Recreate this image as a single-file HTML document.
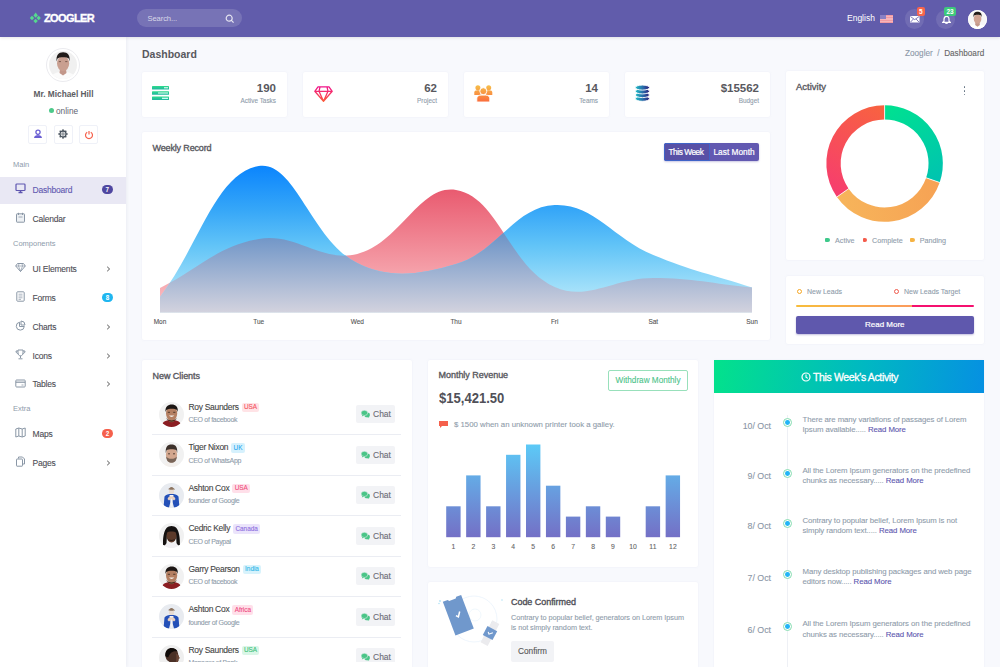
<!DOCTYPE html>
<html><head><meta charset="utf-8">
<style>
*{box-sizing:border-box;margin:0;padding:0}
html,body{width:1000px;height:667px;overflow:hidden;background:#f8f9fd;font-family:"Liberation Sans",sans-serif;color:#555}
.a{position:absolute}
.hdr{left:0;top:0;width:1000px;height:36.5px;background:#615cab;box-shadow:0 1px 3px rgba(0,0,0,.10);z-index:5}
.side{left:0;top:36px;width:126px;height:631px;background:#fff;box-shadow:1px 0 3px rgba(40,50,90,.06);z-index:3}
.card{background:#fff;border-radius:2px;box-shadow:0 0 2px rgba(210,214,230,.35)}
.t{white-space:nowrap;line-height:1}
.s{-webkit-text-stroke:0.1px currentColor}
</style></head>
<body>
<div class="a hdr">
  <svg class="a" style="left:26px;top:8px" width="20" height="20" viewBox="0 0 20 20"><g fill="#55d98f">
    <path d="M9.6 4.6 L11.9 7.5 L9.6 9.7 L7.5 7.5Z"/>
    <path d="M6 7.8 L8.2 10 L6 12.2 L3.8 10Z"/>
    <path d="M12.7 7.8 L14.9 10 L12.7 12.2 L10.5 10Z"/>
    <path d="M9.6 10.8 L11.8 13 L9.6 15.2 L7.4 13Z"/>
  </g></svg>
  <div class="a t" style="left:44px;top:13px;font-size:11px;font-weight:bold;color:#fff;letter-spacing:-0.6px;-webkit-text-stroke:0.35px #fff">ZOOGLER</div>
  <div class="a" style="left:137px;top:9px;width:105px;height:18px;border-radius:9px;background:rgba(255,255,255,.14)"></div>
  <div class="a t" style="left:147.5px;top:15.3px;font-size:7.6px;letter-spacing:-0.1px;color:rgba(255,255,255,.72)">Search...</div>
  <svg class="a" style="left:225px;top:14px" width="10" height="10" viewBox="0 0 10 10"><circle cx="4.2" cy="4.2" r="3" fill="none" stroke="rgba(255,255,255,.8)" stroke-width="1.2"/><path d="M6.4 6.4 L8.6 8.6" stroke="rgba(255,255,255,.8)" stroke-width="1.3"/></svg>
  <div class="a t" style="left:847px;top:14px;font-size:8.5px;color:#fff">English</div>
  <div class="a" style="left:880px;top:14.8px;width:13px;height:8px;background:repeating-linear-gradient(#f39aa3 0 1.15px,#f7b5ba 1.15px 2.3px)"><div class="a" style="left:0;top:0;width:6px;height:4px;background:#8a80c4"></div></div>
  <div class="a" style="left:905px;top:9.3px;width:19.3px;height:19.3px;border-radius:50%;background:rgba(255,255,255,.1)"></div>
  <svg class="a" style="left:910px;top:16px" width="9.5" height="6.5" viewBox="0 0 9.5 6.5"><rect x="0" y="0" width="9.5" height="6.5" rx=".6" fill="#fff"/><path d="M.5 .6 L4.75 3.6 L9 .6 M.6 6 L3.4 3 M8.9 6 L6.1 3" fill="none" stroke="#615cab" stroke-width=".8"/></svg>
  <div class="a t" style="left:916.5px;top:7px;width:8.5px;height:9px;border-radius:2px;background:#f7654c;color:#fff;font-size:6.5px;font-weight:bold;text-align:center;line-height:9px">5</div>
  <div class="a" style="left:936px;top:9.5px;width:19px;height:19px;border-radius:50%;background:rgba(255,255,255,.1)"></div>
  <svg class="a" style="left:941.5px;top:15.5px" width="9" height="8" viewBox="0 0 9 8"><path d="M4.5 .3 C2.5 .3 2 1.8 2 3.4 L2 5.2 L.5 6.4 L8.5 6.4 L7 5.2 L7 3.4 C7 1.8 6.5 .3 4.5 .3Z" fill="none" stroke="#fff" stroke-width="1.2" stroke-linejoin="round"/><path d="M3.3 7.3 L5.7 7.3" stroke="#fff" stroke-width="1.2"/></svg>
  <div class="a t" style="left:944px;top:7px;width:12px;height:9px;border-radius:2px;background:#3ec97c;color:#fff;font-size:6.5px;font-weight:bold;text-align:center;line-height:9px">23</div>
  <svg class="a" style="left:968px;top:9.5px" width="19" height="19" viewBox="0 0 28 28"><defs><clipPath id="cav2"><circle cx="14" cy="14" r="14"/></clipPath></defs><circle cx="14" cy="14" r="14" fill="#f6f6f6"/><g clip-path="url(#cav2)">
<path d="M2 28 C3 22.5 7 21 14 21 C21 21 25 22.5 26 28Z" fill="#fff"/>
<path d="M11 18 L17 18 L17.5 22 L14 24.5 L10.5 22Z" fill="#c2978a"/>
<ellipse cx="14.1" cy="13.2" rx="5.6" ry="7" fill="#cfa292"/>
<path d="M8.1 11 C7.5 5 10 2.6 14.1 2.6 C18.2 2.6 20.7 5 20.1 11 L19.4 8.3 C17.6 6.8 10.6 6.8 8.8 8.3Z" fill="#221c1a"/>
</g><circle cx="14" cy="14" r="13.3" fill="none" stroke="#fff" stroke-width="1.4"/></svg>
</div>
<div class="a side"></div>
<div style="position:absolute;left:0;top:0;z-index:4">
<div class="a" style="left:46px;top:48px;width:34px;height:34px;border-radius:50%;border:1px solid #ebebef;background:#fff"></div>
<svg class="a" style="left:49px;top:51px" width="28" height="28" viewBox="0 0 28 28"><defs><clipPath id="cav"><circle cx="14" cy="14" r="14"/></clipPath></defs><circle cx="14" cy="14" r="14" fill="#f0f0f0"/><g clip-path="url(#cav)">
<path d="M2 28 C3 22.5 7 21 14 21 C21 21 25 22.5 26 28Z" fill="#fbfbfb"/>
<path d="M11 18 L17 18 L17.5 22 L14 24.5 L10.5 22Z" fill="#c2978a"/>
<ellipse cx="14.1" cy="12.6" rx="6.1" ry="7.6" fill="#c99f90"/>
<path d="M7.6 10.5 C7 4 9.5 1.3 14.1 1.3 C18.7 1.3 21.2 4 20.6 10.5 L19.8 7.5 C18 5.8 10.3 5.8 8.5 7.5Z" fill="#221c1a"/>
<path d="M9.8 10.6 L12 10.6 M16.2 10.6 L18.4 10.6" stroke="#5a4038" stroke-width=".7"/>
</g></svg>

<div class="a t" style="left:0;width:126px;text-align:center;top:89.8px;font-size:8.3px;font-weight:bold;color:#5c5c62;padding-left:1px">Mr. Michael Hill</div>
<div class="a" style="left:49.3px;top:108.2px;width:5px;height:5px;border-radius:50%;background:#4cc98a"></div>
<div class="a t" style="left:56px;top:107px;font-size:8.3px;color:#5f6470">online</div>
<div class="a" style="left:28px;top:125px;width:19px;height:18.5px;border:1px solid #eff1f8;border-radius:2px;background:#fff"></div>
<div class="a" style="left:53.5px;top:125px;width:19px;height:18.5px;border:1px solid #eff1f8;border-radius:2px;background:#fff"></div>
<div class="a" style="left:79px;top:125px;width:19px;height:18.5px;border:1px solid #eff1f8;border-radius:2px;background:#fff"></div>
<svg class="a" style="left:33px;top:129px" width="10" height="10" viewBox="0 0 10 10"><circle cx="5" cy="3.3" r="2.1" fill="none" stroke="#6a5fd3" stroke-width="1.3"/><path d="M1 9 C1.3 6.8 3 6.3 5 6.3 C7 6.3 8.7 6.8 9 9Z" fill="#6a5fd3"/><path d="M4 5.2 L5 7 L6 5.2" fill="#6a5fd3"/></svg>
<svg class="a" style="left:58.3px;top:129px" width="10" height="10" viewBox="0 0 10 10"><rect x="4.3" y="0.3" width="1.4" height="2" transform="rotate(0 5 5)" fill="#4b5560"/><rect x="4.3" y="0.3" width="1.4" height="2" transform="rotate(45 5 5)" fill="#4b5560"/><rect x="4.3" y="0.3" width="1.4" height="2" transform="rotate(90 5 5)" fill="#4b5560"/><rect x="4.3" y="0.3" width="1.4" height="2" transform="rotate(135 5 5)" fill="#4b5560"/><rect x="4.3" y="0.3" width="1.4" height="2" transform="rotate(180 5 5)" fill="#4b5560"/><rect x="4.3" y="0.3" width="1.4" height="2" transform="rotate(225 5 5)" fill="#4b5560"/><rect x="4.3" y="0.3" width="1.4" height="2" transform="rotate(270 5 5)" fill="#4b5560"/><rect x="4.3" y="0.3" width="1.4" height="2" transform="rotate(315 5 5)" fill="#4b5560"/><circle cx="5" cy="5" r="3" fill="none" stroke="#4b5560" stroke-width="1.3"/><circle cx="5" cy="5" r="1.2" fill="none" stroke="#4b5560" stroke-width=".8"/></svg>
<svg class="a" style="left:83.5px;top:129.5px" width="10" height="10" viewBox="0 0 10 10"><path d="M3.2 2.2 A3.5 3.5 0 1 0 6.8 2.2" fill="none" stroke="#f5624d" stroke-width="1.2"/><path d="M5 1 L5 4.6" stroke="#f5624d" stroke-width="1.2"/></svg>
<div class="a" style="left:0;top:177px;width:126px;height:27px;background:#e9e8f4"></div>
<div class="a t" style="left:13px;top:161.2px;font-size:7.5px;color:#8e9bab">Main</div>
<div class="a t" style="left:13px;top:239.7px;font-size:7.5px;color:#8e9bab">Components</div>
<div class="a t" style="left:13px;top:404.7px;font-size:7.5px;color:#8e9bab">Extra</div>
<svg class="a" style="left:14.5px;top:183.2px" width="11" height="11" viewBox="0 0 11 11"><rect x="1" y="1" width="9" height="6.5" rx=".8" fill="none" stroke="#5f56b0" stroke-width="1.2"/><path d="M3.5 9.5 L7.5 9.5 M5.5 7.5 L5.5 9.5" stroke="#5f56b0" stroke-width="1.4"/></svg>
<div class="a t" style="left:32.5px;top:186px;font-size:8.5px;letter-spacing:-0.2px;-webkit-text-stroke:0.1px #6158b0;color:#6158b0">Dashboard</div>
<div class="a t" style="left:102px;top:184.9px;width:10.5px;height:9.2px;border-radius:4.6px;background:#4f47a0;color:#fff;font-size:6.3px;font-weight:bold;text-align:center;line-height:9.4px">7</div>
<svg class="a" style="left:14.5px;top:212.2px" width="11" height="11" viewBox="0 0 11 11"><rect x="1.5" y="1.8" width="8" height="8.4" rx=".6" fill="#eef1f4" stroke="#8a97a6" stroke-width="1"/><path d="M3.5 .8 L3.5 3 M7.5 .8 L7.5 3" stroke="#8a97a6" stroke-width="1"/><path d="M3.5 5 L7.5 5" stroke="#8a97a6" stroke-width=".8"/></svg>
<div class="a t" style="left:32.5px;top:215px;font-size:8.5px;letter-spacing:-0.2px;-webkit-text-stroke:0.1px #4d4d55;color:#4d4d55">Calendar</div>
<svg class="a" style="left:14.5px;top:261.8px" width="11" height="11" viewBox="0 0 11 11"><path d="M2.5 1.5 L8.5 1.5 L10.3 4 L5.5 9.5 L.7 4Z" fill="none" stroke="#8a97a6" stroke-width="1"/><path d="M.7 4 L10.3 4 M4 1.5 L3.5 4 L5.5 9.5 L7.5 4 L7 1.5" fill="none" stroke="#8a97a6" stroke-width=".7"/></svg>
<div class="a t" style="left:32.5px;top:264.6px;font-size:8.5px;letter-spacing:-0.2px;-webkit-text-stroke:0.1px #4d4d55;color:#4d4d55">UI Elements</div>
<svg class="a" style="left:105.5px;top:265.6px" width="5" height="6" viewBox="0 0 5 6"><path d="M1.2 .8 L3.6 3 L1.2 5.2" fill="none" stroke="#555" stroke-width="1"/></svg>
<svg class="a" style="left:14.5px;top:290.8px" width="11" height="11" viewBox="0 0 11 11"><rect x="1.8" y=".8" width="7.4" height="9.4" rx=".8" fill="none" stroke="#8a97a6" stroke-width="1"/><path d="M3.5 3.2 L7.5 3.2 M3.5 5 L7.5 5 M3.5 6.8 L7.5 6.8 M3.5 8.4 L6 8.4" stroke="#8a97a6" stroke-width=".7"/></svg>
<div class="a t" style="left:32.5px;top:293.6px;font-size:8.5px;letter-spacing:-0.2px;-webkit-text-stroke:0.1px #4d4d55;color:#4d4d55">Forms</div>
<div class="a t" style="left:101.8px;top:292.5px;width:11.4px;height:9.2px;border-radius:4.6px;background:#1fb6f0;color:#fff;font-size:6.3px;font-weight:bold;text-align:center;line-height:9.4px">8</div>
<svg class="a" style="left:14.5px;top:319.8px" width="11" height="11" viewBox="0 0 11 11"><path d="M4.5 2.2 A4 4 0 1 0 9.3 6.5 L4.5 6.5Z" fill="none" stroke="#8a97a6" stroke-width="1"/><path d="M6 1 A4 4 0 0 1 10 5 L6 5Z" fill="none" stroke="#8a97a6" stroke-width="1"/></svg>
<div class="a t" style="left:32.5px;top:322.6px;font-size:8.5px;letter-spacing:-0.2px;-webkit-text-stroke:0.1px #4d4d55;color:#4d4d55">Charts</div>
<svg class="a" style="left:105.5px;top:323.6px" width="5" height="6" viewBox="0 0 5 6"><path d="M1.2 .8 L3.6 3 L1.2 5.2" fill="none" stroke="#555" stroke-width="1"/></svg>
<svg class="a" style="left:14.5px;top:348.7px" width="11" height="11" viewBox="0 0 11 11"><path d="M3 1 L8 1 L8 4 C8 5.7 7 6.8 5.5 6.8 C4 6.8 3 5.7 3 4Z" fill="none" stroke="#8a97a6" stroke-width="1"/><path d="M3 2 L1 2 C1 3.8 2 4.5 3.2 4.6 M8 2 L10 2 C10 3.8 9 4.5 7.8 4.6 M5.5 6.8 L5.5 9 M3.5 9.8 L7.5 9.8" fill="none" stroke="#8a97a6" stroke-width="1"/></svg>
<div class="a t" style="left:32.5px;top:351.5px;font-size:8.5px;letter-spacing:-0.2px;-webkit-text-stroke:0.1px #4d4d55;color:#4d4d55">Icons</div>
<svg class="a" style="left:105.5px;top:352.5px" width="5" height="6" viewBox="0 0 5 6"><path d="M1.2 .8 L3.6 3 L1.2 5.2" fill="none" stroke="#555" stroke-width="1"/></svg>
<svg class="a" style="left:14.5px;top:377.59999999999997px" width="11" height="11" viewBox="0 0 11 11"><rect x=".8" y="2" width="9.4" height="7" rx=".8" fill="none" stroke="#8a97a6" stroke-width="1"/><path d="M.8 4.2 L10.2 4.2" stroke="#8a97a6" stroke-width="1.2"/><path d="M6.5 7 L8.5 7" stroke="#8a97a6" stroke-width=".8"/></svg>
<div class="a t" style="left:32.5px;top:380.4px;font-size:8.5px;letter-spacing:-0.2px;-webkit-text-stroke:0.1px #4d4d55;color:#4d4d55">Tables</div>
<svg class="a" style="left:105.5px;top:381.4px" width="5" height="6" viewBox="0 0 5 6"><path d="M1.2 .8 L3.6 3 L1.2 5.2" fill="none" stroke="#555" stroke-width="1"/></svg>
<svg class="a" style="left:14.5px;top:427.2px" width="11" height="11" viewBox="0 0 11 11"><path d="M.8 2 L3.8 1 L7.2 2 L10.2 1 L10.2 9 L7.2 10 L3.8 9 L.8 10Z M3.8 1 L3.8 9 M7.2 2 L7.2 10" fill="none" stroke="#8a97a6" stroke-width="1"/></svg>
<div class="a t" style="left:32.5px;top:430px;font-size:8.5px;letter-spacing:-0.2px;-webkit-text-stroke:0.1px #4d4d55;color:#4d4d55">Maps</div>
<div class="a t" style="left:101.8px;top:428.9px;width:11.4px;height:9.2px;border-radius:4.6px;background:#f5604c;color:#fff;font-size:6.3px;font-weight:bold;text-align:center;line-height:9.4px">2</div>
<svg class="a" style="left:14.5px;top:456.2px" width="11" height="11" viewBox="0 0 11 11"><path d="M3.5 2.5 L3.5 1 L7.5 1 L9.5 3 L9.5 8 L8 8" fill="none" stroke="#8a97a6" stroke-width="1"/><rect x="1.5" y="3" width="6" height="7.2" rx=".5" fill="none" stroke="#8a97a6" stroke-width="1"/></svg>
<div class="a t" style="left:32.5px;top:459px;font-size:8.5px;letter-spacing:-0.2px;-webkit-text-stroke:0.1px #4d4d55;color:#4d4d55">Pages</div>
<svg class="a" style="left:105.5px;top:460px" width="5" height="6" viewBox="0 0 5 6"><path d="M1.2 .8 L3.6 3 L1.2 5.2" fill="none" stroke="#555" stroke-width="1"/></svg>
</div>
<div class="a t" style="left:142px;top:49px;font-size:10.5px;font-weight:bold;color:#58585e">Dashboard</div>
<div class="a t s" style="left:905px;top:50px;font-size:8.2px;color:#8b98a8">Zoogler&nbsp;&nbsp;/&nbsp;&nbsp;<span style="color:#666">Dashboard</span></div>
<div class="a card" style="left:142px;top:71.8px;width:145px;height:44.8px"><svg class="a" style="left:10px;top:14.5px" width="17" height="14" viewBox="0 0 17 14"><defs><linearGradient id="gL" x1="0" y1="0" x2="0" y2="1"><stop offset="0" stop-color="#2fdc8c"/><stop offset="1" stop-color="#1fb4a0"/></linearGradient></defs><rect x="0" y="0" width="17" height="3.6" rx=".6" fill="url(#gL)"/><rect x="0" y="5.2" width="17" height="3.6" rx=".6" fill="url(#gL)"/><rect x="0" y="10.4" width="17" height="3.6" rx=".6" fill="url(#gL)"/><rect x="12" y="1.3" width="4" height="1" fill="#fff"/><rect x="6" y="6.5" width="10" height="1" fill="#e6fff4"/><rect x="10" y="11.7" width="6" height="1.2" fill="#dff"/></svg><div class="a t" style="right:11px;top:11px;font-size:11.5px;font-weight:bold;color:#58585e">190</div><div class="a t s" style="right:11px;top:26.5px;font-size:6.4px;color:#8f9cab">Active Tasks</div></div>
<div class="a card" style="left:303px;top:71.8px;width:145px;height:44.8px"><svg class="a" style="left:10.5px;top:14px" width="19" height="16" viewBox="0 0 19 16"><defs><linearGradient id="gD" x1="0" y1="0" x2="0" y2="1"><stop offset="0" stop-color="#f0138a"/><stop offset="1" stop-color="#fb5a3a"/></linearGradient></defs><path d="M4 .8 L15 .8 L18.2 5.3 L9.5 15.2 L.8 5.3Z M.8 5.3 L18.2 5.3 M6 .8 L5 5.3 L9.5 15.2 L14 5.3 L13 .8" fill="none" stroke="url(#gD)" stroke-width="1.3" stroke-linejoin="round"/></svg><div class="a t" style="right:11px;top:11px;font-size:11.5px;font-weight:bold;color:#58585e">62</div><div class="a t s" style="right:11px;top:26.5px;font-size:6.4px;color:#8f9cab">Project</div></div>
<div class="a card" style="left:464px;top:71.8px;width:145px;height:44.8px"><svg class="a" style="left:10px;top:13px" width="19" height="18" viewBox="0 0 19 18"><defs><linearGradient id="gT" gradientUnits="userSpaceOnUse" x1="0" y1="0" x2="0" y2="17"><stop offset="0" stop-color="#f6c04a"/><stop offset="1" stop-color="#fb6b3b"/></linearGradient></defs><g fill="url(#gT)"><circle cx="3.9" cy="2.8" r="2.5"/><circle cx="14.7" cy="2.8" r="2.5"/><path d="M.3 10 L.3 7.6 C.3 6 1.5 5.3 3.2 5.3 L4.8 5.3 C6.3 5.3 6.6 6.2 6.6 7.2 L6.6 10Z"/><path d="M18.3 10 L18.3 7.6 C18.3 6 17.1 5.3 15.4 5.3 L13.8 5.3 C12.3 5.3 12 6.2 12 7.2 L12 10Z"/><circle cx="9.3" cy="6.2" r="3.5" stroke="#fff" stroke-width=".9"/><path d="M2.8 17 L2.8 13.8 C2.8 11.5 4.3 10.1 7 10.1 L11.6 10.1 C14.3 10.1 15.8 11.5 15.8 13.8 L15.8 17Z" stroke="#fff" stroke-width=".9"/></g></svg><div class="a t" style="right:11px;top:11px;font-size:11.5px;font-weight:bold;color:#58585e">14</div><div class="a t s" style="right:11px;top:26.5px;font-size:6.4px;color:#8f9cab">Teams</div></div>
<div class="a card" style="left:625px;top:71.8px;width:145px;height:44.8px"><svg class="a" style="left:10px;top:13.4px" width="15" height="17" viewBox="0 0 15 17"><defs><linearGradient id="gC" gradientUnits="userSpaceOnUse" x1="0" y1="0" x2="15" y2="0"><stop offset="0" stop-color="#1fc3c9"/><stop offset=".55" stop-color="#2a68a8"/><stop offset="1" stop-color="#2b1876"/></linearGradient></defs><g fill="url(#gC)" stroke="#fff" stroke-width=".9"><ellipse cx="7.4" cy="13.7" rx="7.1" ry="2.6"/><ellipse cx="7.4" cy="10" rx="7.1" ry="2.6"/><ellipse cx="7.4" cy="6.3" rx="7.1" ry="2.6"/><ellipse cx="7.4" cy="2.6" rx="7.1" ry="2.5"/></g></svg><div class="a t" style="right:11px;top:11px;font-size:11.5px;font-weight:bold;color:#58585e">$15562</div><div class="a t s" style="right:11px;top:26.5px;font-size:6.4px;color:#8f9cab">Budget</div></div>
<div class="a card" style="left:142px;top:132px;width:628px;height:208px"></div>
<div class="a t" style="left:152.5px;top:143.8px;font-size:9px;letter-spacing:-0.15px;-webkit-text-stroke:0.35px #58585e;color:#58585e">Weekly Record</div>
<div class="a" style="left:664px;top:143px;width:95px;height:18px;border-radius:2px;background:#6259b1;box-shadow:0 1px 2px rgba(80,70,160,.3)"></div>
<div class="a" style="left:664px;top:143px;width:46px;height:18px;border-radius:2px 0 0 2px;background:#5850a6;border:1px solid #3f63c8"></div>
<div class="a t" style="left:668.5px;top:148px;font-size:8.3px;letter-spacing:-0.45px;-webkit-text-stroke:0.2px #fff;color:#fff">This Week</div>
<div class="a t" style="left:713.5px;top:148px;font-size:8.3px;-webkit-text-stroke:0.2px #fff;color:#fff">Last Month</div>
<svg class="a" style="left:0;top:0;z-index:2" width="1000" height="667" viewBox="0 0 1000 667">
<defs>
<linearGradient id="gb" gradientUnits="userSpaceOnUse" x1="0" y1="165" x2="0" y2="312"><stop offset="0" stop-color="#0a84fd"/><stop offset=".3" stop-color="#35a6f8"/><stop offset=".55" stop-color="#62c4f7"/><stop offset="1" stop-color="#c4effb"/></linearGradient>
<linearGradient id="gp" gradientUnits="userSpaceOnUse" x1="0" y1="190" x2="0" y2="312"><stop offset="0" stop-color="#e95b70"/><stop offset="1" stop-color="#fbc3c6"/></linearGradient>
<linearGradient id="gs" gradientUnits="userSpaceOnUse" x1="0" y1="232" x2="0" y2="312"><stop offset="0" stop-color="#6a92c6"/><stop offset="1" stop-color="#d2d2de"/></linearGradient>
<clipPath id="cb"><path d="M160.0,297.0 C199.5,244.6 215.9,173.4 258.7,166.0 C294.8,159.8 311.3,240.1 357.3,263.0 C390.2,279.3 419.5,274.7 456.0,264.0 C498.5,251.5 514.4,206.8 554.7,205.0 C593.4,203.2 612.6,238.0 653.3,255.0 C691.6,271.0 712.5,274.5 752.0,287.5 L752,312.5 L160,312.5 Z"/></clipPath>
</defs>
<path d="M160.0,288.0 C199.5,268.4 217.3,246.1 258.7,239.0 C296.2,232.5 321.1,263.0 357.3,254.0 C400.0,243.4 419.7,183.9 456.0,190.0 C498.7,197.1 508.7,266.5 554.7,287.0 C587.6,301.7 613.9,277.9 653.3,278.0 C692.8,278.1 712.5,283.7 752.0,287.5 L752,312.5 L160,312.5 Z" fill="url(#gp)"/>
<path d="M160.0,297.0 C199.5,244.6 215.9,173.4 258.7,166.0 C294.8,159.8 311.3,240.1 357.3,263.0 C390.2,279.3 419.5,274.7 456.0,264.0 C498.5,251.5 514.4,206.8 554.7,205.0 C593.4,203.2 612.6,238.0 653.3,255.0 C691.6,271.0 712.5,274.5 752.0,287.5 L752,312.5 L160,312.5 Z" fill="url(#gb)"/>
<path d="M160.0,288.0 C199.5,268.4 217.3,246.1 258.7,239.0 C296.2,232.5 321.1,263.0 357.3,254.0 C400.0,243.4 419.7,183.9 456.0,190.0 C498.7,197.1 508.7,266.5 554.7,287.0 C587.6,301.7 613.9,277.9 653.3,278.0 C692.8,278.1 712.5,283.7 752.0,287.5 L752,312.5 L160,312.5 Z" fill="url(#gs)" clip-path="url(#cb)"/>
</svg>
<div class="a t s" style="left:140.0px;width:40px;text-align:center;top:319px;font-size:6.5px;color:#555;z-index:2">Mon</div>
<div class="a t s" style="left:238.7px;width:40px;text-align:center;top:319px;font-size:6.5px;color:#555;z-index:2">Tue</div>
<div class="a t s" style="left:337.3px;width:40px;text-align:center;top:319px;font-size:6.5px;color:#555;z-index:2">Wed</div>
<div class="a t s" style="left:436.0px;width:40px;text-align:center;top:319px;font-size:6.5px;color:#555;z-index:2">Thu</div>
<div class="a t s" style="left:534.7px;width:40px;text-align:center;top:319px;font-size:6.5px;color:#555;z-index:2">Fri</div>
<div class="a t s" style="left:633.3px;width:40px;text-align:center;top:319px;font-size:6.5px;color:#555;z-index:2">Sat</div>
<div class="a t s" style="left:732.0px;width:40px;text-align:center;top:319px;font-size:6.5px;color:#555;z-index:2">Sun</div>
<div class="a card" style="left:786px;top:71px;width:198px;height:189px"></div>
<div class="a t" style="left:796px;top:81.5px;font-size:9.5px;-webkit-text-stroke:0.35px #58585e;color:#58585e">Activity</div>
<div class="a" style="left:963.6px;top:86.4px;width:1.7px;height:1.7px;border-radius:50%;background:#607080"></div>
<div class="a" style="left:963.6px;top:90.10000000000001px;width:1.7px;height:1.7px;border-radius:50%;background:#607080"></div>
<div class="a" style="left:963.6px;top:93.8px;width:1.7px;height:1.7px;border-radius:50%;background:#607080"></div>
<svg class="a" style="left:0;top:0;z-index:2" width="1000" height="667" viewBox="0 0 1000 667"><defs><linearGradient id="gA" gradientUnits="userSpaceOnUse" x1="884" y1="105" x2="940" y2="195"><stop offset="0" stop-color="#00e28f"/><stop offset="1" stop-color="#00bfb5"/></linearGradient><linearGradient id="gP" gradientUnits="userSpaceOnUse" x1="940" y1="185" x2="830" y2="205"><stop offset="0" stop-color="#f6a254"/><stop offset="1" stop-color="#f7b65b"/></linearGradient><linearGradient id="gCm" gradientUnits="userSpaceOnUse" x1="884" y1="105" x2="830" y2="200"><stop offset="0" stop-color="#f8633f"/><stop offset="1" stop-color="#f63a72"/></linearGradient></defs><path d="M884.60,112.40 A51.1,51.1 0 0 1 932.92,180.14" fill="none" stroke="url(#gA)" stroke-width="14.3"/><path d="M932.92,180.14 A51.1,51.1 0 0 1 842.74,192.81" fill="none" stroke="url(#gP)" stroke-width="14.3"/><path d="M842.74,192.81 A51.1,51.1 0 0 1 884.60,112.40" fill="none" stroke="url(#gCm)" stroke-width="14.3"/><path d="M884.60,120.05 L884.60,104.75" stroke="#fff" stroke-width="0.8"/><path d="M925.68,177.65 L940.15,182.63" stroke="#fff" stroke-width="0.8"/><path d="M849.01,188.42 L836.47,197.20" stroke="#fff" stroke-width="0.8"/></svg>
<div class="a" style="left:825px;top:238.3px;width:4.5px;height:4px;border-radius:1px 2px 2px 1px;background:#3ec98b"></div>
<div class="a t s" style="left:835px;top:236.5px;font-size:7.2px;color:#8f9cab">Active</div>
<div class="a" style="left:862.5px;top:238.3px;width:4.5px;height:4px;border-radius:1px 2px 2px 1px;background:#f45b4b"></div>
<div class="a t s" style="left:872px;top:236.5px;font-size:7.2px;color:#8f9cab">Complete</div>
<div class="a" style="left:910px;top:238.3px;width:4.5px;height:4px;border-radius:1px 2px 2px 1px;background:#f6b343"></div>
<div class="a t s" style="left:919.7px;top:236.5px;font-size:7.2px;color:#8f9cab">Panding</div>
<div class="a card" style="left:786px;top:276px;width:198px;height:68px"></div>
<div class="a" style="left:797px;top:289px;width:5px;height:5px;border-radius:50%;border:1.3px solid #f5a623"></div>
<div class="a t s" style="left:807px;top:288px;font-size:7px;color:#8f9cab">New Leads</div>
<div class="a" style="left:893.5px;top:289px;width:5px;height:5px;border-radius:50%;border:1.3px solid #ef5a4c"></div>
<div class="a t s" style="left:904px;top:288px;font-size:7px;color:#8f9cab">New Leads Target</div>
<div class="a" style="left:796px;top:305px;width:177.5px;height:2.4px;border-radius:1.2px;background:linear-gradient(90deg,#f7bd3c 0,#fb9b5d 115.6px,#f5106f 115.6px,#f5106f 100%)"></div>
<div class="a" style="left:796px;top:316px;width:177.5px;height:17.5px;border-radius:2px;background:#5f58ad;box-shadow:0 1px 2px rgba(80,70,160,.35)"></div>
<div class="a t" style="left:796px;width:177.5px;text-align:center;top:320.5px;font-size:8px;-webkit-text-stroke:0.2px #fff;color:#fff">Read More</div>
<div class="a card" style="left:142px;top:360px;width:270px;height:320px"></div>
<div class="a t" style="left:152.5px;top:371.8px;font-size:9px;letter-spacing:-0.05px;-webkit-text-stroke:0.35px #58585e;color:#58585e">New Clients</div>
<div class="a" style="left:0;top:0;width:1000px;height:662px;overflow:hidden">
<div class="a" style="left:159px;top:401.5px;width:25px;height:25px"><svg width="25" height="25" viewBox="0 0 25 25"><defs><clipPath id="cf"><circle cx="12.5" cy="12.5" r="12.5"/></clipPath></defs><circle cx="12.5" cy="12.5" r="12.5" fill="#f1f1f1"/><g clip-path="url(#cf)"><path d="M2.5 24 C3.5 19.5 7 18 12.5 18 C18 18 21.5 19.5 22.5 24 L22.5 26 L2.5 26Z" fill="#8b1e22"/><path d="M10 17 L15 17 L15 19.5 C14 20.5 11 20.5 10 19.5Z" fill="#8a5a40"/><ellipse cx="12.6" cy="11.5" rx="5.6" ry="7.4" fill="#b47f62"/><path d="M7 15 C8 19.5 17 19.5 18.2 15 C17.5 18 15 19.4 12.6 19.4 C10 19.4 7.5 18 7 15Z" fill="#3a2418"/><path d="M6.5 10 C6 4.5 9 2.6 12.8 2.6 C16.5 2.6 19.3 4.5 18.8 10 L18 8 C16 6.3 9.5 6.3 7.3 8Z" fill="#1c1614"/><path d="M9.8 13.6 Q12.6 16.3 15.4 13.6Z" fill="#f4f0ea"/><path d="M8.8 10.3 L11 10.3 M14.2 10.3 L16.4 10.3" stroke="#3a2a20" stroke-width=".8"/></g></svg></div>
<div class="a t s" style="left:188.4px;top:402.7px;font-size:8.5px;color:#444"><span style="letter-spacing:-0.3px">Roy Saunders</span><span style="display:inline-block;margin-left:3px;padding:1.3px 2.3px 1.5px;border-radius:2px;background:#ffe3e6;color:#f4515c;font-size:6.4px;vertical-align:0.5px;line-height:1">USA</span></div>
<div class="a t s" style="left:188.4px;top:416.0px;font-size:7px;letter-spacing:-0.3px;color:#8f9cab">CEO of facebook</div>
<div class="a" style="left:356px;top:405.0px;width:39px;height:18px;border-radius:2px;background:#f2f3f6"></div>
<svg class="a" style="left:360.5px;top:410.0px" width="9" height="8" viewBox="0 0 9 8"><ellipse cx="6.1" cy="4.9" rx="2.8" ry="2.4" fill="#4ac587"/><path d="M7.2 6.6 L8.4 7.8 L6.2 7.1Z" fill="#4ac587"/><ellipse cx="3.4" cy="2.9" rx="3.3" ry="2.6" fill="#4ac587" stroke="#f2f3f6" stroke-width=".5"/><path d="M1.6 4.8 L.8 6.4 L3 5.4Z" fill="#4ac587"/></svg>
<div class="a t s" style="left:373px;top:410.0px;font-size:8.5px;color:#6b6b75">Chat</div>
<div class="a" style="left:152px;top:434.0px;width:249px;height:1px;background:#ebedf3"></div>
<div class="a" style="left:159px;top:442.0px;width:25px;height:25px"><svg width="25" height="25" viewBox="0 0 25 25"><defs><clipPath id="cf"><circle cx="12.5" cy="12.5" r="12.5"/></clipPath></defs><circle cx="12.5" cy="12.5" r="12.5" fill="#f1f1f1"/><g clip-path="url(#cf)"><path d="M4 26 C5 21 8 20 12.5 20 C17 20 20 21 21 26Z" fill="#f3efec"/><ellipse cx="12.5" cy="12.8" rx="5.6" ry="7.6" fill="#d2a68e"/><path d="M7.2 14.5 C7.5 19.5 9.8 20.8 12.5 20.8 C15.2 20.8 17.5 19.5 17.8 14.5 C16.5 16.2 15 16.8 12.5 16.8 C10 16.8 8.5 16.2 7.2 14.5Z" fill="#786457"/><path d="M6.8 11 C6.2 5 8.5 2.5 12.5 2.5 C16.5 2.5 18.8 5 18.2 11 L17.4 8.2 C15.5 6.8 9.5 6.8 7.6 8.2Z" fill="#3c302a"/><path d="M9 11.8 L11 11.8 M14 11.8 L16 11.8" stroke="#3a2a20" stroke-width=".8"/></g></svg></div>
<div class="a t s" style="left:188.4px;top:443.2px;font-size:8.5px;color:#444"><span style="letter-spacing:-0.3px">Tiger Nixon</span><span style="display:inline-block;margin-left:3px;padding:1.3px 2.3px 1.5px;border-radius:2px;background:#d6f1fd;color:#2ba9f0;font-size:6.4px;vertical-align:0.5px;line-height:1">UK</span></div>
<div class="a t s" style="left:188.4px;top:456.5px;font-size:7px;letter-spacing:-0.3px;color:#8f9cab">CEO of WhatsApp</div>
<div class="a" style="left:356px;top:445.5px;width:39px;height:18px;border-radius:2px;background:#f2f3f6"></div>
<svg class="a" style="left:360.5px;top:450.5px" width="9" height="8" viewBox="0 0 9 8"><ellipse cx="6.1" cy="4.9" rx="2.8" ry="2.4" fill="#4ac587"/><path d="M7.2 6.6 L8.4 7.8 L6.2 7.1Z" fill="#4ac587"/><ellipse cx="3.4" cy="2.9" rx="3.3" ry="2.6" fill="#4ac587" stroke="#f2f3f6" stroke-width=".5"/><path d="M1.6 4.8 L.8 6.4 L3 5.4Z" fill="#4ac587"/></svg>
<div class="a t s" style="left:373px;top:450.5px;font-size:8.5px;color:#6b6b75">Chat</div>
<div class="a" style="left:152px;top:474.5px;width:249px;height:1px;background:#ebedf3"></div>
<div class="a" style="left:159px;top:482.5px;width:25px;height:25px"><svg width="25" height="25" viewBox="0 0 25 25"><defs><clipPath id="cf"><circle cx="12.5" cy="12.5" r="12.5"/></clipPath></defs><circle cx="12.5" cy="12.5" r="12.5" fill="#e8ebf0"/><g clip-path="url(#cf)"><path d="M4.5 24.5 L5.5 13.5 C7 11.5 9.5 11 12.5 11 C15.5 11 18 11.5 19.5 13.5 L20.5 24.5 L15 24.5 L12.5 15 L10 24.5Z" fill="#2450b8"/><path d="M10.5 12 L12.5 25 L14.5 12Z" fill="#f4f4f6"/><path d="M8.5 16 C9.5 13.5 11 13 12.5 13.5 C14 13 15.5 13.5 16.5 16 L15 17.5 L12.5 15.5 L10 17.5Z" fill="#e8d0c0"/><ellipse cx="12.5" cy="8.2" rx="2.6" ry="2.9" fill="#e9dcd2"/><path d="M8.8 6.3 C10 5.8 11 4 12.5 4 C14 4 15 5.8 16.2 6.3 C15 6.9 10 6.9 8.8 6.3Z" fill="#8c7460"/></g></svg></div>
<div class="a t s" style="left:188.4px;top:483.7px;font-size:8.5px;color:#444"><span style="letter-spacing:-0.3px">Ashton Cox</span><span style="display:inline-block;margin-left:3px;padding:1.3px 2.3px 1.5px;border-radius:2px;background:#ffdfe9;color:#ef4f7c;font-size:6.4px;vertical-align:0.5px;line-height:1">USA</span></div>
<div class="a t s" style="left:188.4px;top:497.0px;font-size:7px;letter-spacing:-0.3px;color:#8f9cab">founder of Google</div>
<div class="a" style="left:356px;top:486.0px;width:39px;height:18px;border-radius:2px;background:#f2f3f6"></div>
<svg class="a" style="left:360.5px;top:491.0px" width="9" height="8" viewBox="0 0 9 8"><ellipse cx="6.1" cy="4.9" rx="2.8" ry="2.4" fill="#4ac587"/><path d="M7.2 6.6 L8.4 7.8 L6.2 7.1Z" fill="#4ac587"/><ellipse cx="3.4" cy="2.9" rx="3.3" ry="2.6" fill="#4ac587" stroke="#f2f3f6" stroke-width=".5"/><path d="M1.6 4.8 L.8 6.4 L3 5.4Z" fill="#4ac587"/></svg>
<div class="a t s" style="left:373px;top:491.0px;font-size:8.5px;color:#6b6b75">Chat</div>
<div class="a" style="left:152px;top:515.0px;width:249px;height:1px;background:#ebedf3"></div>
<div class="a" style="left:159px;top:523.0px;width:25px;height:25px"><svg width="25" height="25" viewBox="0 0 25 25"><defs><clipPath id="cf"><circle cx="12.5" cy="12.5" r="12.5"/></clipPath></defs><circle cx="12.5" cy="12.5" r="12.5" fill="#f1f1f1"/><g clip-path="url(#cf)"><path d="M3.5 26 C4.5 21 8 20 12.5 20 C17 20 20.5 21 21.5 26Z" fill="#f1eff2"/><path d="M4 23 C4 14 4.5 3 12.5 3 C20.5 3 21 14 21 23 C19.5 22.5 18 21.5 17.5 20 L17 12 L8 12 L7.5 20 C7 21.5 5.5 22.5 4 23Z" fill="#141110"/><ellipse cx="12.5" cy="12.8" rx="5" ry="6.8" fill="#5c3a2a"/><path d="M8.3 15 C9 19 16 19 16.7 15 C15.5 17.5 9.5 17.5 8.3 15Z" fill="#2a1a14"/><path d="M7.5 9.5 C8 6 10 5 12.5 5 C15 5 17 6 17.5 9.5 C15.5 8 9.5 8 7.5 9.5Z" fill="#141110"/></g></svg></div>
<div class="a t s" style="left:188.4px;top:524.2px;font-size:8.5px;color:#444"><span style="letter-spacing:-0.3px">Cedric Kelly</span><span style="display:inline-block;margin-left:3px;padding:1.3px 2.3px 1.5px;border-radius:2px;background:#ebe4fb;color:#8c6de0;font-size:6.4px;vertical-align:0.5px;line-height:1">Canada</span></div>
<div class="a t s" style="left:188.4px;top:537.5px;font-size:7px;letter-spacing:-0.3px;color:#8f9cab">CEO of Paypal</div>
<div class="a" style="left:356px;top:526.5px;width:39px;height:18px;border-radius:2px;background:#f2f3f6"></div>
<svg class="a" style="left:360.5px;top:531.5px" width="9" height="8" viewBox="0 0 9 8"><ellipse cx="6.1" cy="4.9" rx="2.8" ry="2.4" fill="#4ac587"/><path d="M7.2 6.6 L8.4 7.8 L6.2 7.1Z" fill="#4ac587"/><ellipse cx="3.4" cy="2.9" rx="3.3" ry="2.6" fill="#4ac587" stroke="#f2f3f6" stroke-width=".5"/><path d="M1.6 4.8 L.8 6.4 L3 5.4Z" fill="#4ac587"/></svg>
<div class="a t s" style="left:373px;top:531.5px;font-size:8.5px;color:#6b6b75">Chat</div>
<div class="a" style="left:152px;top:555.5px;width:249px;height:1px;background:#ebedf3"></div>
<div class="a" style="left:159px;top:563.5px;width:25px;height:25px"><svg width="25" height="25" viewBox="0 0 25 25"><defs><clipPath id="cf"><circle cx="12.5" cy="12.5" r="12.5"/></clipPath></defs><circle cx="12.5" cy="12.5" r="12.5" fill="#f1f1f1"/><g clip-path="url(#cf)"><path d="M2.5 24 C3.5 19.5 7 18 12.5 18 C18 18 21.5 19.5 22.5 24 L22.5 26 L2.5 26Z" fill="#8b1e22"/><path d="M10 17 L15 17 L15 19.5 C14 20.5 11 20.5 10 19.5Z" fill="#8a5a40"/><ellipse cx="12.6" cy="11.5" rx="5.6" ry="7.4" fill="#b47f62"/><path d="M7 15 C8 19.5 17 19.5 18.2 15 C17.5 18 15 19.4 12.6 19.4 C10 19.4 7.5 18 7 15Z" fill="#3a2418"/><path d="M6.5 10 C6 4.5 9 2.6 12.8 2.6 C16.5 2.6 19.3 4.5 18.8 10 L18 8 C16 6.3 9.5 6.3 7.3 8Z" fill="#1c1614"/><path d="M9.8 13.6 Q12.6 16.3 15.4 13.6Z" fill="#f4f0ea"/><path d="M8.8 10.3 L11 10.3 M14.2 10.3 L16.4 10.3" stroke="#3a2a20" stroke-width=".8"/></g></svg></div>
<div class="a t s" style="left:188.4px;top:564.7px;font-size:8.5px;color:#444"><span style="letter-spacing:-0.3px">Garry Pearson</span><span style="display:inline-block;margin-left:3px;padding:1.3px 2.3px 1.5px;border-radius:2px;background:#d8f3fc;color:#2fb7e8;font-size:6.4px;vertical-align:0.5px;line-height:1">India</span></div>
<div class="a t s" style="left:188.4px;top:578.0px;font-size:7px;letter-spacing:-0.3px;color:#8f9cab">CEO of facebook</div>
<div class="a" style="left:356px;top:567.0px;width:39px;height:18px;border-radius:2px;background:#f2f3f6"></div>
<svg class="a" style="left:360.5px;top:572.0px" width="9" height="8" viewBox="0 0 9 8"><ellipse cx="6.1" cy="4.9" rx="2.8" ry="2.4" fill="#4ac587"/><path d="M7.2 6.6 L8.4 7.8 L6.2 7.1Z" fill="#4ac587"/><ellipse cx="3.4" cy="2.9" rx="3.3" ry="2.6" fill="#4ac587" stroke="#f2f3f6" stroke-width=".5"/><path d="M1.6 4.8 L.8 6.4 L3 5.4Z" fill="#4ac587"/></svg>
<div class="a t s" style="left:373px;top:572.0px;font-size:8.5px;color:#6b6b75">Chat</div>
<div class="a" style="left:152px;top:596.0px;width:249px;height:1px;background:#ebedf3"></div>
<div class="a" style="left:159px;top:604.0px;width:25px;height:25px"><svg width="25" height="25" viewBox="0 0 25 25"><defs><clipPath id="cf"><circle cx="12.5" cy="12.5" r="12.5"/></clipPath></defs><circle cx="12.5" cy="12.5" r="12.5" fill="#e8ebf0"/><g clip-path="url(#cf)"><path d="M4.5 24.5 L5.5 13.5 C7 11.5 9.5 11 12.5 11 C15.5 11 18 11.5 19.5 13.5 L20.5 24.5 L15 24.5 L12.5 15 L10 24.5Z" fill="#2450b8"/><path d="M10.5 12 L12.5 25 L14.5 12Z" fill="#f4f4f6"/><path d="M8.5 16 C9.5 13.5 11 13 12.5 13.5 C14 13 15.5 13.5 16.5 16 L15 17.5 L12.5 15.5 L10 17.5Z" fill="#e8d0c0"/><ellipse cx="12.5" cy="8.2" rx="2.6" ry="2.9" fill="#e9dcd2"/><path d="M8.8 6.3 C10 5.8 11 4 12.5 4 C14 4 15 5.8 16.2 6.3 C15 6.9 10 6.9 8.8 6.3Z" fill="#8c7460"/></g></svg></div>
<div class="a t s" style="left:188.4px;top:605.2px;font-size:8.5px;color:#444"><span style="letter-spacing:-0.3px">Ashton Cox</span><span style="display:inline-block;margin-left:3px;padding:1.3px 2.3px 1.5px;border-radius:2px;background:#ffdfe9;color:#ee4a80;font-size:6.4px;vertical-align:0.5px;line-height:1">Africa</span></div>
<div class="a t s" style="left:188.4px;top:618.5px;font-size:7px;letter-spacing:-0.3px;color:#8f9cab">founder of Google</div>
<div class="a" style="left:356px;top:607.5px;width:39px;height:18px;border-radius:2px;background:#f2f3f6"></div>
<svg class="a" style="left:360.5px;top:612.5px" width="9" height="8" viewBox="0 0 9 8"><ellipse cx="6.1" cy="4.9" rx="2.8" ry="2.4" fill="#4ac587"/><path d="M7.2 6.6 L8.4 7.8 L6.2 7.1Z" fill="#4ac587"/><ellipse cx="3.4" cy="2.9" rx="3.3" ry="2.6" fill="#4ac587" stroke="#f2f3f6" stroke-width=".5"/><path d="M1.6 4.8 L.8 6.4 L3 5.4Z" fill="#4ac587"/></svg>
<div class="a t s" style="left:373px;top:612.5px;font-size:8.5px;color:#6b6b75">Chat</div>
<div class="a" style="left:152px;top:636.5px;width:249px;height:1px;background:#ebedf3"></div>
<div class="a" style="left:159px;top:644.5px;width:25px;height:25px"><svg width="25" height="25" viewBox="0 0 25 25"><defs><clipPath id="cf"><circle cx="12.5" cy="12.5" r="12.5"/></clipPath></defs><circle cx="12.5" cy="12.5" r="12.5" fill="#efefef"/><g clip-path="url(#cf)"><path d="M9 25 C10 22 10.8 19.5 10.5 16.5 L16 17.5 C15.6 20 16.5 23 17.5 25Z" fill="#3b2820"/><path d="M6.5 11.5 C6 6 9 3.5 12.8 3.5 C16.8 3.5 19.2 6.2 19.3 10 L20.6 13.2 L19.4 13.8 C19.8 15.5 19 17.6 16.6 17.8 C12.5 18.4 7 16.5 6.5 11.5Z" fill="#4a3026"/><path d="M17 8.5 C18.5 9.5 19.3 10.5 19.3 10 L20.6 13.2 L19.4 13.8 C19.8 15.5 19 17.6 16.6 17.8 C17.5 15 17.5 11 17 8.5Z" fill="#6a4536"/><path d="M6.3 11 C6 5.5 9 3 12.8 3 C15.6 3 17.6 4.2 18.6 6.5 C15.5 5.5 11 6.8 9.5 12 C8 12.5 7 12 6.3 11Z" fill="#100b09"/></g></svg></div>
<div class="a t s" style="left:188.4px;top:645.7px;font-size:8.5px;color:#444"><span style="letter-spacing:-0.3px">Roy Saunders</span><span style="display:inline-block;margin-left:3px;padding:1.3px 2.3px 1.5px;border-radius:2px;background:#daf6e7;color:#3bbf79;font-size:6.4px;vertical-align:0.5px;line-height:1">USA</span></div>
<div class="a t s" style="left:188.4px;top:659.0px;font-size:7px;letter-spacing:-0.3px;color:#8f9cab">Manager of Bank</div>
<div class="a" style="left:356px;top:648.0px;width:39px;height:18px;border-radius:2px;background:#f2f3f6"></div>
<svg class="a" style="left:360.5px;top:653.0px" width="9" height="8" viewBox="0 0 9 8"><ellipse cx="6.1" cy="4.9" rx="2.8" ry="2.4" fill="#4ac587"/><path d="M7.2 6.6 L8.4 7.8 L6.2 7.1Z" fill="#4ac587"/><ellipse cx="3.4" cy="2.9" rx="3.3" ry="2.6" fill="#4ac587" stroke="#f2f3f6" stroke-width=".5"/><path d="M1.6 4.8 L.8 6.4 L3 5.4Z" fill="#4ac587"/></svg>
<div class="a t s" style="left:373px;top:653.0px;font-size:8.5px;color:#6b6b75">Chat</div>
</div>
<div class="a card" style="left:428px;top:360px;width:270px;height:207px"></div>
<div class="a t" style="left:438.5px;top:371.3px;font-size:9px;letter-spacing:-0.03px;-webkit-text-stroke:0.35px #58585e;color:#58585e">Monthly Revenue</div>
<div class="a" style="left:608px;top:370px;width:80px;height:20.5px;border-radius:2px;border:1px solid #98e0bb"></div>
<div class="a t s" style="left:608px;width:80px;text-align:center;top:377px;font-size:8.2px;color:#4cc38a">Withdraw Monthly</div>
<div class="a t" style="left:438.5px;top:390.5px;font-size:14.5px;transform:scaleX(.9);transform-origin:0 0;font-weight:bold;color:#505058">$15,421.50</div>
<svg class="a" style="left:438.8px;top:420.8px" width="9" height="7" viewBox="0 0 9 7"><path d="M0 0 L9 0 L9 5 L3 5 L1 7 L1 5 L0 5Z" fill="#f5604c"/></svg>
<div class="a t s" style="left:454px;top:421px;font-size:7.8px;color:#8f9cab">$ 1500 when an unknown printer took a galley.</div>
<svg class="a" style="left:0;top:0;z-index:2" width="1000" height="667" viewBox="0 0 1000 667"><defs><linearGradient id="gBar" gradientUnits="userSpaceOnUse" x1="0" y1="444" x2="0" y2="537"><stop offset="0" stop-color="#5ccaf7"/><stop offset="1" stop-color="#7470c6"/></linearGradient></defs><rect x="446.20" y="506.30" width="14.4" height="30.90" fill="url(#gBar)"/><rect x="466.15" y="475.40" width="14.4" height="61.80" fill="url(#gBar)"/><rect x="486.10" y="506.30" width="14.4" height="30.90" fill="url(#gBar)"/><rect x="506.05" y="454.80" width="14.4" height="82.40" fill="url(#gBar)"/><rect x="526.00" y="444.50" width="14.4" height="92.70" fill="url(#gBar)"/><rect x="545.95" y="485.70" width="14.4" height="51.50" fill="url(#gBar)"/><rect x="565.90" y="516.60" width="14.4" height="20.60" fill="url(#gBar)"/><rect x="585.85" y="506.30" width="14.4" height="30.90" fill="url(#gBar)"/><rect x="605.80" y="516.60" width="14.4" height="20.60" fill="url(#gBar)"/><rect x="645.70" y="506.30" width="14.4" height="30.90" fill="url(#gBar)"/><rect x="665.65" y="475.40" width="14.4" height="61.80" fill="url(#gBar)"/></svg>
<div class="a t s" style="left:443.4px;width:20px;text-align:center;top:544px;font-size:6.8px;color:#666">1</div>
<div class="a t s" style="left:463.3px;width:20px;text-align:center;top:544px;font-size:6.8px;color:#666">2</div>
<div class="a t s" style="left:483.3px;width:20px;text-align:center;top:544px;font-size:6.8px;color:#666">3</div>
<div class="a t s" style="left:503.2px;width:20px;text-align:center;top:544px;font-size:6.8px;color:#666">4</div>
<div class="a t s" style="left:523.2px;width:20px;text-align:center;top:544px;font-size:6.8px;color:#666">5</div>
<div class="a t s" style="left:543.2px;width:20px;text-align:center;top:544px;font-size:6.8px;color:#666">6</div>
<div class="a t s" style="left:563.1px;width:20px;text-align:center;top:544px;font-size:6.8px;color:#666">7</div>
<div class="a t s" style="left:583.1px;width:20px;text-align:center;top:544px;font-size:6.8px;color:#666">8</div>
<div class="a t s" style="left:603.0px;width:20px;text-align:center;top:544px;font-size:6.8px;color:#666">9</div>
<div class="a t s" style="left:623.0px;width:20px;text-align:center;top:544px;font-size:6.8px;color:#666">10</div>
<div class="a t s" style="left:642.9px;width:20px;text-align:center;top:544px;font-size:6.8px;color:#666">11</div>
<div class="a t s" style="left:662.9px;width:20px;text-align:center;top:544px;font-size:6.8px;color:#666">12</div>
<div class="a card" style="left:428px;top:581.5px;width:270px;height:120px"></div>
<svg class="a" style="left:428px;top:581.5px" width="80" height="80" viewBox="0 0 80 80">
<circle cx="46" cy="37" r="23" fill="none" stroke="#e6f1fb" stroke-width="0.7"/>
<circle cx="47" cy="33" r="6" fill="none" stroke="#e9f3fb" stroke-width="0.7"/>
<circle cx="12" cy="19" r=".9" fill="#b5e3f6"/><circle cx="11" cy="21.5" r=".8" fill="#b5e3f6"/><circle cx="74" cy="18" r=".8" fill="#b5e3f6"/><circle cx="64" cy="40.5" r=".8" fill="#b5e3f6"/>
<g transform="translate(30.3 33.2) rotate(-20.6)"><path d="M-9.8,-18 L-4.5,-18 L-3.5,-16.6 L3.5,-16.6 L4.5,-18 L9.8,-18 L9.8,18 L-9.8,18Z" fill="#7098cc"/><path d="M-2.3,-0.5 L-0.5,1.6 L2.6,-3" fill="none" stroke="#fff" stroke-width="1.5"/></g>
<g transform="translate(62 51.1) rotate(28)"><rect x="-4" y="-12.5" width="8" height="25" fill="#ebebee"/><rect x="-5.5" y="-5" width="11" height="10" fill="#7098cc"/><path d="M-2.2,-0.2 L-0.4,1.4 L2.4,-1.6" fill="none" stroke="#fff" stroke-width="1.1"/></g>
</svg>
<div class="a t" style="left:511px;top:597.8px;font-size:9px;letter-spacing:-0.05px;-webkit-text-stroke:0.35px #505058;color:#505058">Code Confirmed</div>
<div class="a s" style="left:511px;top:612.5px;width:190px;letter-spacing:-0.05px;font-size:7.3px;line-height:10.3px;color:#8f9cab">Contrary to popular belief, generators on Lorem Ipsum<br>is not simply random text.</div>
<div class="a" style="left:511px;top:641px;width:43px;height:20.5px;border-radius:2px;background:#f2f3f6"></div>
<div class="a t s" style="left:511px;width:43px;text-align:center;top:647px;font-size:8.3px;color:#555">Confirm</div>
<div class="a card" style="left:714px;top:360px;width:270px;height:320px"></div>
<div class="a" style="left:714px;top:360px;width:270px;height:32.8px;background:linear-gradient(100deg,#03e28b,#00b8c2 55%,#0690e2)"></div>
<svg class="a" style="left:800.5px;top:371.5px" width="10" height="10" viewBox="0 0 10 10"><circle cx="5" cy="5" r="4" fill="none" stroke="#fff" stroke-width="1.2"/><path d="M5 2.6 L5 5.2 L6.8 6.4" fill="none" stroke="#fff" stroke-width="1.1"/></svg>
<div class="a t" style="left:813px;top:371.5px;font-size:10.5px;letter-spacing:-0.35px;-webkit-text-stroke:0.3px #fff;color:#fff">This Week's Activity</div>
<div class="a" style="left:786.9px;top:415px;width:1.5px;height:260px;background:#eef0f5"></div>
<div class="a t s" style="left:700px;width:71px;text-align:right;top:421.5px;font-size:8.8px;color:#8a96a6">10/ Oct</div>
<div class="a" style="left:782.7px;top:417.6px;width:9.8px;height:9.8px;border-radius:50%;background:#fff;border:1.1px solid #84dcb0"></div>
<div class="a" style="left:785.2px;top:420.2px;width:4.8px;height:4.8px;border-radius:50%;background:#22b5f6"></div>
<div class="a s" style="left:802.5px;top:415.2px;width:180px;letter-spacing:-0.08px;font-size:7.8px;line-height:10.2px;color:#8f9cab;white-space:nowrap">There are many variations of passages of Lorem<br>Ipsum available..... <span style="color:#5b55ae">Read More</span></div>
<div class="a t s" style="left:700px;width:71px;text-align:right;top:472.4px;font-size:8.8px;color:#8a96a6">9/ Oct</div>
<div class="a" style="left:782.7px;top:468.5px;width:9.8px;height:9.8px;border-radius:50%;background:#fff;border:1.1px solid #84dcb0"></div>
<div class="a" style="left:785.2px;top:471.1px;width:4.8px;height:4.8px;border-radius:50%;background:#22b5f6"></div>
<div class="a s" style="left:802.5px;top:466.1px;width:180px;letter-spacing:-0.08px;font-size:7.8px;line-height:10.2px;color:#8f9cab;white-space:nowrap">All the Lorem Ipsum generators on the predefined<br>chunks as necessary..... <span style="color:#5b55ae">Read More</span></div>
<div class="a t s" style="left:700px;width:71px;text-align:right;top:522.4px;font-size:8.8px;color:#8a96a6">8/ Oct</div>
<div class="a" style="left:782.7px;top:518.5px;width:9.8px;height:9.8px;border-radius:50%;background:#fff;border:1.1px solid #84dcb0"></div>
<div class="a" style="left:785.2px;top:521.1px;width:4.8px;height:4.8px;border-radius:50%;background:#22b5f6"></div>
<div class="a s" style="left:802.5px;top:516.1px;width:180px;letter-spacing:-0.08px;font-size:7.8px;line-height:10.2px;color:#8f9cab;white-space:nowrap">Contrary to popular belief, Lorem Ipsum is not<br>simply random text..... <span style="color:#5b55ae">Read More</span></div>
<div class="a t s" style="left:700px;width:71px;text-align:right;top:573.5px;font-size:8.8px;color:#8a96a6">7/ Oct</div>
<div class="a" style="left:782.7px;top:569.6px;width:9.8px;height:9.8px;border-radius:50%;background:#fff;border:1.1px solid #84dcb0"></div>
<div class="a" style="left:785.2px;top:572.2px;width:4.8px;height:4.8px;border-radius:50%;background:#22b5f6"></div>
<div class="a s" style="left:802.5px;top:567.2px;width:180px;letter-spacing:-0.08px;font-size:7.8px;line-height:10.2px;color:#8f9cab;white-space:nowrap">Many desktop publishing packages and web page<br>editors now..... <span style="color:#5b55ae">Read More</span></div>
<div class="a t s" style="left:700px;width:71px;text-align:right;top:625.6px;font-size:8.8px;color:#8a96a6">6/ Oct</div>
<div class="a" style="left:782.7px;top:621.7px;width:9.8px;height:9.8px;border-radius:50%;background:#fff;border:1.1px solid #84dcb0"></div>
<div class="a" style="left:785.2px;top:624.3px;width:4.8px;height:4.8px;border-radius:50%;background:#22b5f6"></div>
<div class="a s" style="left:802.5px;top:619.3px;width:180px;letter-spacing:-0.08px;font-size:7.8px;line-height:10.2px;color:#8f9cab;white-space:nowrap">All the Lorem Ipsum generators on the predefined<br>chunks as necessary..... <span style="color:#5b55ae">Read More</span></div>
</body></html>
